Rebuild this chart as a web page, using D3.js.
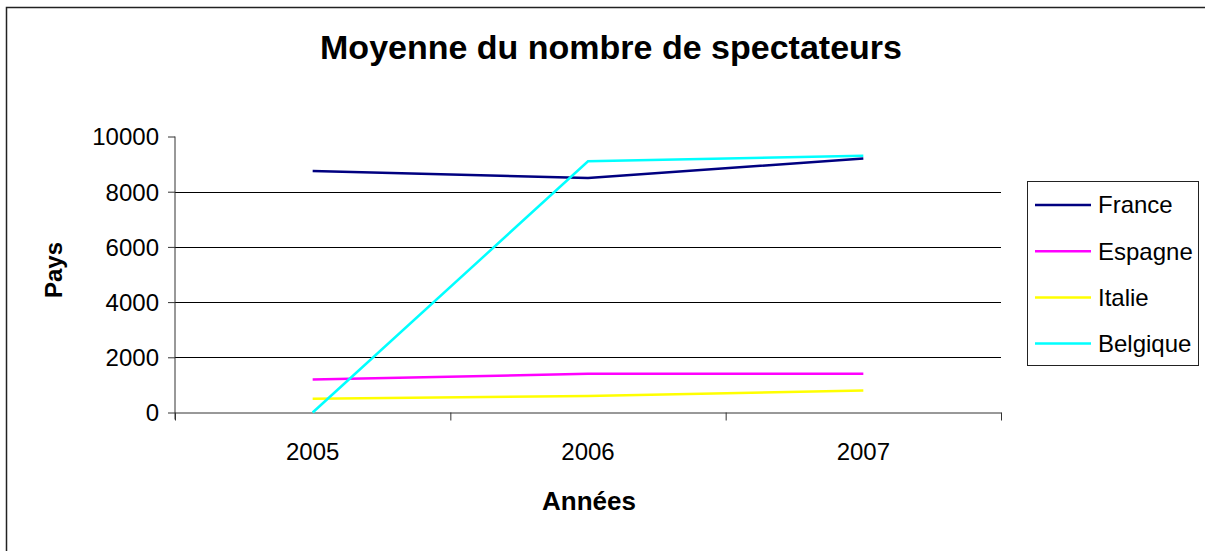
<!DOCTYPE html>
<html>
<head>
<meta charset="utf-8">
<script src="https://cdn.jsdelivr.net/npm/d3@7"></script>
<style>
  body { margin: 0; background: #fff; }
  text { font-family: "Liberation Sans", Arial, sans-serif; fill: #000; }
</style>
</head>
<body>
<div id="chart"></div>
<script>
var years = ["2005", "2006", "2007"];
var yTicks = [0, 2000, 4000, 6000, 8000, 10000];
var france = [8750, 8500, 9200];
var espagne = [1200, 1400, 1400];
var italie = [500, 600, 800];
var belgique = [0, 9100, 9300];

var series = [
  {name: "France", values: france, color: "#000080"},
  {name: "Espagne", values: espagne, color: "#ff00ff"},
  {name: "Italie", values: italie, color: "#ffff00"},
  {name: "Belgique", values: belgique, color: "#00ffff"}
];

var W = 1205, H = 551;
var plot = {left: 175, right: 1001, top: 136.5, bottom: 412.5};

var svg = d3.select("#chart").append("svg")
  .attr("width", W)
  .attr("height", H);

// outer frame (runs off the right/bottom edge like the picture)
svg.append("rect")
  .attr("x", 6.5).attr("y", 7.5)
  .attr("width", W + 20).attr("height", H + 20)
  .attr("fill", "#fff")
  .attr("stroke", "#222")
  .attr("stroke-width", 1.5);

var x = d3.scaleBand().domain(years).range([plot.left, plot.right]).padding(0);
var xEdge = d3.scaleLinear().domain([0, years.length]).range([plot.left, plot.right]);
var y = d3.scaleLinear().domain([0, 10000]).range([plot.bottom, plot.top]);

// gridlines (not at the top value)
svg.append("g").selectAll("line")
  .data(yTicks.filter(function(d) { return d > 0 && d < 10000; }))
  .enter().append("line")
  .attr("x1", plot.left).attr("x2", plot.right)
  .attr("y1", function(d) { return Math.round(y(d)) + 0.5; })
  .attr("y2", function(d) { return Math.round(y(d)) + 0.5; })
  .attr("stroke", "#000")
  .attr("stroke-width", 1);

// y axis
var yAxis = svg.append("g")
  .attr("transform", "translate(" + plot.left + ",0)")
  .call(d3.axisLeft(y).tickValues(yTicks).tickFormat(d3.format("d")).tickSize(7).tickPadding(9).tickSizeOuter(0));
yAxis.select(".domain").remove();
yAxis.append("line")
  .attr("x1", 0).attr("x2", 0)
  .attr("y1", plot.top).attr("y2", plot.bottom + 7)
  .attr("stroke", "#333");
yAxis.selectAll(".tick line").attr("stroke", "#333");
yAxis.selectAll("text")
  .style("font-size", "24px")
  .attr("dy", "0.35em");

// x axis: line and boundary ticks
var xTicks = svg.append("g")
  .attr("transform", "translate(0," + plot.bottom + ")")
  .call(d3.axisBottom(xEdge).ticks(years.length).tickFormat("").tickSize(8).tickSizeOuter(0));
xTicks.selectAll("line, path").attr("stroke", "#333");

// x labels
var xLabels = svg.append("g")
  .attr("transform", "translate(0," + plot.bottom + ")")
  .call(d3.axisBottom(x).tickSize(0).tickPadding(30));
xLabels.select(".domain").remove();
xLabels.selectAll("text")
  .style("font-size", "24px");

// lines
var line = d3.line()
  .x(function(d, i) { return x(years[i]) + x.bandwidth() / 2; })
  .y(function(d) { return y(d); });

svg.append("g").selectAll("path")
  .data(series)
  .enter().append("path")
  .attr("d", function(d) { return line(d.values); })
  .attr("fill", "none")
  .attr("stroke", function(d) { return d.color; })
  .attr("stroke-width", 2.5);

// title and axis titles
svg.append("text")
  .attr("x", 611).attr("y", 59)
  .attr("text-anchor", "middle")
  .style("font-size", "34px")
  .style("font-weight", "bold")
  .text("Moyenne du nombre de spectateurs");

svg.append("text")
  .attr("x", 589).attr("y", 510)
  .attr("text-anchor", "middle")
  .style("font-size", "26px")
  .style("font-weight", "bold")
  .text("Années");

svg.append("text")
  .attr("transform", "translate(62,270) rotate(-90)")
  .attr("text-anchor", "middle")
  .style("font-size", "24px")
  .style("font-weight", "bold")
  .text("Pays");

// legend
var legend = svg.append("g");
legend.append("rect")
  .attr("x", 1027.5).attr("y", 181.5)
  .attr("width", 171).attr("height", 184)
  .attr("fill", "#fff")
  .attr("stroke", "#222");

var item = legend.selectAll(".item")
  .data(series)
  .enter().append("g")
  .attr("class", "item")
  .attr("transform", function(d, i) { return "translate(0," + (205 + i * 46.2) + ")"; });
item.append("line")
  .attr("x1", 1035).attr("x2", 1091)
  .attr("stroke", function(d) { return d.color; })
  .attr("stroke-width", 2.5);
item.append("text")
  .attr("x", 1098)
  .attr("dy", "0.35em")
  .style("font-size", "24px")
  .text(function(d) { return d.name; });
</script>
</body>
</html>
